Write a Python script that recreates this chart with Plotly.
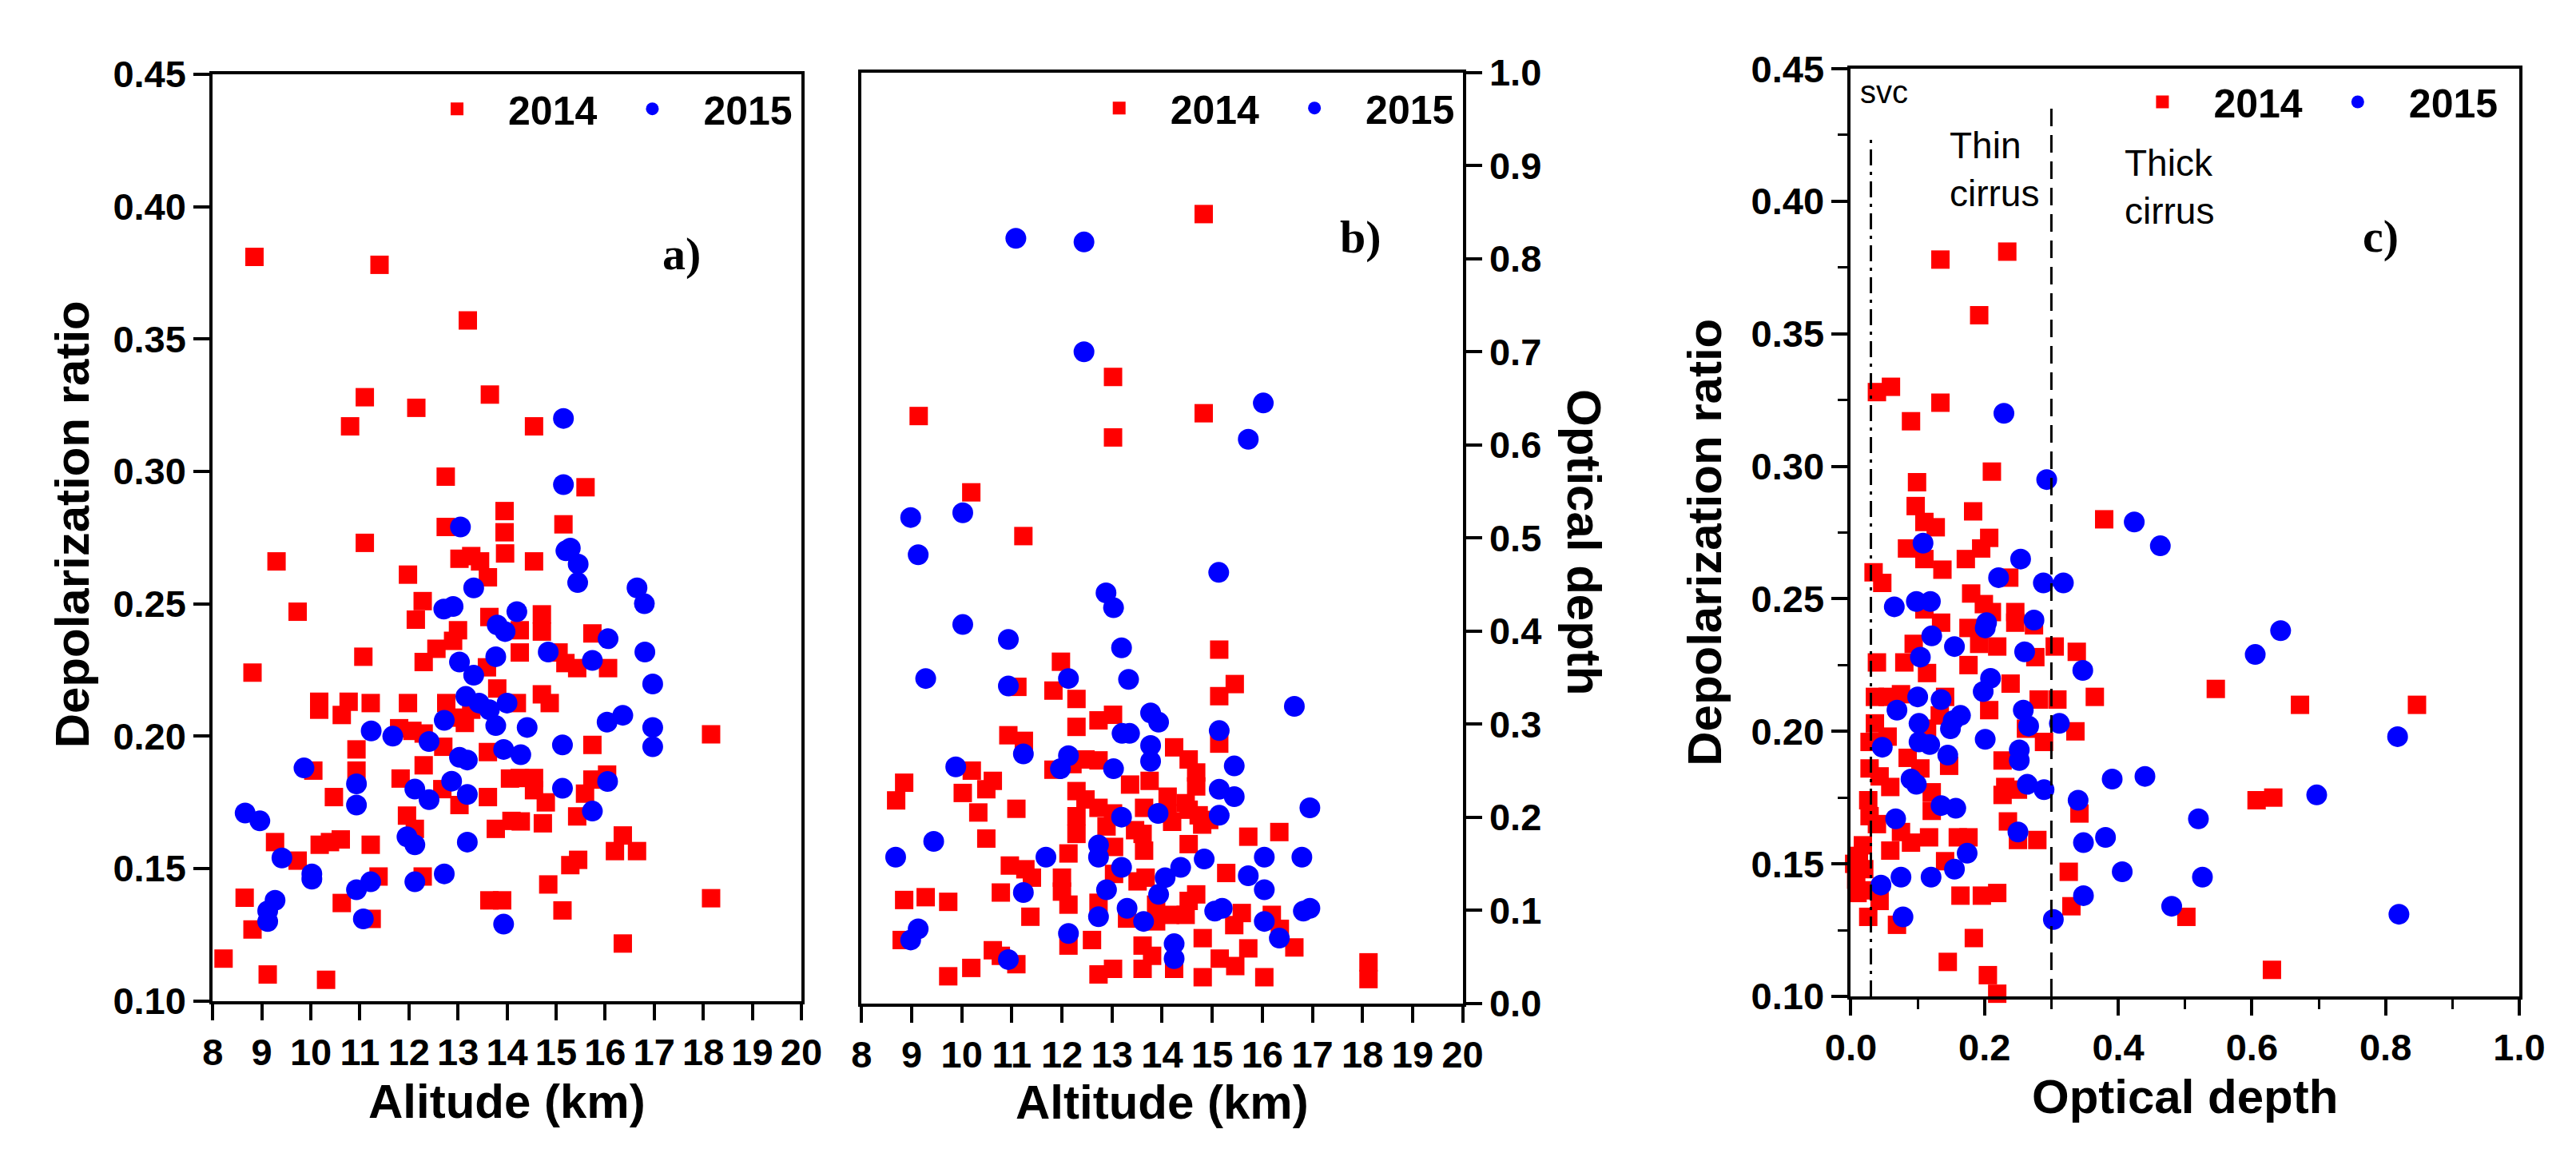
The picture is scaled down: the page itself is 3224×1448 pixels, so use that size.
import plotly.graph_objects as go

# ---------------- data ----------------
# Panel a: altitude (km) vs depolarization ratio
a_2014 = [(8.85,0.381),(11.40,0.378),(13.20,0.357),(11.10,0.328),(12.15,0.324),(13.65,0.329),(10.80,0.317),(14.55,0.317),
          (12.75,0.298),(15.60,0.294),(13.95,0.285),(12.75,0.279),(13.95,0.277),(15.15,0.280),(11.10,0.273),(9.30,0.266),
          (13.96,0.269),(13.03,0.267),(13.27,0.268),(13.45,0.266),(13.61,0.260),(11.98,0.261),(9.73,0.247),(12.28,0.251),
          (12.14,0.244),(13.64,0.245),(13.00,0.240),(12.90,0.236),(12.56,0.233),(12.30,0.228),(11.07,0.230),(13.59,0.226),
          (13.80,0.218),(8.81,0.224),(10.17,0.213),(10.17,0.210),(10.77,0.213),(10.63,0.208),(11.22,0.2125),(11.98,0.2125),
          (12.76,0.2125),(12.95,0.207),(13.14,0.205),(13.27,0.210),(11.80,0.203),(12.07,0.202),(12.30,0.201),(12.70,0.196),
          (10.93,0.195),(13.61,0.194),(10.05,0.187),(10.93,0.187),(12.30,0.189),(11.83,0.184),(12.68,0.180),(13.03,0.174),
          (10.47,0.177),(13.61,0.177),(14.06,0.184),(11.96,0.170),(12.12,0.165),(13.77,0.165),(14.09,0.168),(9.27,0.160),
          (10.18,0.159),(10.39,0.160),(10.61,0.161),(11.22,0.159),(9.73,0.153),(11.38,0.147),(12.28,0.147),(8.65,0.139),
          (10.63,0.137),(11.24,0.131),(13.64,0.138),(13.90,0.138),(8.81,0.127),(8.22,0.116),(9.12,0.110),(10.31,0.108),
          (14.55,0.266),(14.71,0.246),(14.71,0.2395),(14.26,0.240),(14.26,0.2316),(15.05,0.2316),(15.19,0.2276),(15.43,0.2257),
          (15.74,0.2388),(16.06,0.2257),(14.71,0.2158),(14.87,0.2125),(14.20,0.2125),(15.74,0.1967),(18.16,0.2007),(14.26,0.1842),
          (14.55,0.1842),(14.55,0.1796),(14.79,0.175),(15.59,0.1783),(15.74,0.1836),(16.04,0.1855),(15.43,0.1697),(14.28,0.1678),
          (14.73,0.1671),(16.36,0.1625),(16.20,0.1566),(16.65,0.1566),(15.29,0.1513),(15.45,0.1533),(14.84,0.144),(15.13,0.1342),
          (18.16,0.1388),(16.36,0.1217)]
a_2015 = [(15.15,0.320),(15.15,0.295),(13.05,0.279),(15.20,0.270),(15.29,0.271),(15.45,0.265),(15.44,0.258),(13.32,0.256),
          (16.65,0.256),(16.80,0.250),(12.71,0.248),(12.90,0.249),(14.20,0.247),(13.80,0.242),(13.96,0.2395),(14.84,0.2318),
          (15.74,0.2286),(16.06,0.2368),(16.81,0.2318),(16.97,0.2197),(13.03,0.228),(13.77,0.230),(13.32,0.223),(13.16,0.215),
          (13.43,0.2125),(13.64,0.210),(13.77,0.204),(14.00,0.2125),(12.72,0.206),(11.23,0.202),(11.67,0.200),(12.41,0.198),
          (13.03,0.192),(13.19,0.191),(13.93,0.195),(14.28,0.193),(14.41,0.2033),(16.04,0.2053),(16.36,0.2079),(16.97,0.2033),
          (16.97,0.196),(15.13,0.1967),(9.86,0.188),(10.93,0.182),(10.93,0.174),(12.12,0.180),(12.41,0.176),(12.87,0.183),
          (13.19,0.178),(15.13,0.1803),(16.05,0.1829),(15.74,0.1717),(8.66,0.171),(8.96,0.168),(11.96,0.162),(12.12,0.159),
          (13.19,0.160),(9.41,0.154),(10.02,0.148),(10.02,0.146),(11.22,0.145),(10.93,0.142),(12.12,0.145),(12.72,0.148),
          (9.27,0.138),(9.12,0.134),(9.12,0.130),(11.07,0.131),(13.93,0.129)]

# Panel b: altitude (km) vs optical depth
b_2014 = [(14.83,0.848),(13.02,0.673),(9.14,0.631),(14.83,0.634),(13.02,0.608),
          (10.19,0.549),(11.23,0.502),(11.98,0.367),(11.11,0.340),(11.83,0.336),(12.29,0.327),(12.29,0.297),(12.73,0.304),
          (13.02,0.310),(10.93,0.288),(11.24,0.282),(11.83,0.251),(12.21,0.257),(12.47,0.262),(12.73,0.261),(8.85,0.237),
          (8.69,0.218),(10.20,0.250),(10.02,0.226),(10.33,0.205),(10.49,0.230),(10.62,0.239),(11.09,0.209),(10.49,0.177),
          (12.29,0.228),(12.29,0.201),(12.29,0.182),(12.13,0.161),(12.73,0.210),(13.02,0.204),(13.36,0.235),(13.75,0.239),
          (13.64,0.210),(13.61,0.182),(13.64,0.164),(12.89,0.190),(10.96,0.148),(11.27,0.144),(11.40,0.135),(12.00,0.135),
          (12.00,0.120),(12.13,0.106),(13.04,0.139),(13.67,0.135),(8.85,0.111),(9.28,0.114),(9.73,0.109),(10.78,0.119),
          (11.37,0.093),(12.73,0.108),(13.30,0.091),(13.88,0.088),(8.80,0.068),(12.13,0.062),(12.60,0.068),(10.62,0.057),
          (10.78,0.051),(11.09,0.042),(9.73,0.029),(10.19,0.038),(12.73,0.031),(13.02,0.037),(13.61,0.062),(13.61,0.037),
          (13.80,0.051),(12.47,0.219),(13.46,0.186),(13.04,0.168),(13.51,0.131),(13.88,0.106),
          (15.14,0.380),(15.45,0.343),(15.14,0.330),(15.14,0.279),(14.24,0.275),(14.53,0.262),(14.68,0.248),(14.68,0.233),
          (14.11,0.222),(14.47,0.215),(14.11,0.204),(14.53,0.208),(14.73,0.202),(14.94,0.197),(15.72,0.179),(16.34,0.184),
          (14.53,0.171),(15.28,0.140),(14.68,0.117),(14.53,0.110),(14.16,0.095),(14.47,0.095),(15.59,0.097),(15.44,0.084),
          (16.19,0.095),(16.35,0.080),(16.64,0.060),(14.81,0.070),(15.72,0.059),(15.15,0.048),(15.46,0.040),(14.24,0.037),
          (14.81,0.028),(16.04,0.028),(18.12,0.044),(18.12,0.026),(14.20,0.195),(14.80,0.192)]
b_2015 = [(11.08,0.822),(12.44,0.818),(12.44,0.700),(16.02,0.645),(15.72,0.606),(15.13,0.463),
          (8.98,0.522),(10.02,0.527),(9.13,0.482),(12.88,0.441),(13.03,0.425),(10.02,0.407),(10.93,0.391),(13.19,0.382),
          (9.28,0.349),(10.93,0.341),(12.13,0.349),(13.33,0.348),(13.77,0.312),(13.93,0.302),(13.20,0.290),(13.35,0.290),
          (13.77,0.277),(13.77,0.260),(11.23,0.268),(12.13,0.266),(11.97,0.252),(9.88,0.254),(13.03,0.252),(13.19,0.200),
          (13.92,0.204),(12.73,0.170),(12.73,0.157),(9.44,0.174),(8.68,0.157),(11.68,0.157),(13.19,0.146),(11.23,0.119),
          (12.89,0.122),(12.73,0.093),(13.30,0.102),(13.63,0.088),(13.93,0.117),(9.13,0.080),(8.98,0.068),(12.13,0.075),
          (10.93,0.047),
          (16.64,0.319),(15.14,0.293),(15.44,0.255),(15.14,0.230),(15.44,0.222),(15.14,0.202),(16.95,0.210),(14.84,0.155),
          (14.37,0.146),(14.06,0.135),(16.04,0.157),(16.79,0.157),(15.72,0.137),(16.04,0.122),(15.20,0.102),(15.05,0.099),
          (16.95,0.102),(16.82,0.099),(16.04,0.088),(16.34,0.070),(14.24,0.064),(14.24,0.048)]

# Panel c: optical depth vs depolarization ratio
c_2014 = [(0.234,0.381),(0.134,0.378),(0.192,0.357),(0.039,0.328),(0.060,0.330),(0.134,0.324),(0.090,0.317),
          (0.211,0.298),(0.099,0.294),(0.097,0.285),(0.110,0.279),(0.127,0.277),(0.183,0.283),(0.379,0.280),(0.084,0.269),
          (0.110,0.265),(0.137,0.261),(0.207,0.273),(0.195,0.269),(0.172,0.265),(0.034,0.260),(0.047,0.256),(0.237,0.258),
          (0.180,0.252),(0.199,0.248),(0.211,0.245),(0.110,0.246),(0.135,0.241),(0.176,0.239),(0.246,0.245),(0.246,0.241),
          (0.274,0.240),(0.219,0.232),(0.192,0.233),(0.094,0.233),(0.305,0.232),(0.338,0.230),(0.039,0.226),(0.080,0.226),
          (0.176,0.225),(0.276,0.228),(0.114,0.222),(0.239,0.218),(0.365,0.213),(0.281,0.212),(0.309,0.212),(0.036,0.213),
          (0.055,0.213),(0.075,0.214),(0.141,0.213),(0.207,0.208),(0.036,0.203),(0.055,0.198),(0.133,0.206),(0.262,0.201),
          (0.289,0.196),(0.336,0.200),(0.114,0.201),(0.028,0.196),
          (0.147,0.187),(0.227,0.189),(0.231,0.179),(0.227,0.176),(0.028,0.186),(0.043,0.183),(0.059,0.179),(0.104,0.186),
          (0.085,0.190),(0.121,0.177),(0.121,0.170),(0.250,0.178),(0.342,0.169),(0.026,0.174),(0.028,0.168),(0.235,0.166),
          (0.250,0.159),(0.279,0.159),(0.039,0.165),(0.075,0.162),(0.090,0.158),(0.117,0.160),(0.160,0.160),(0.176,0.160),
          (0.059,0.155),(0.141,0.151),(0.012,0.153),(0.020,0.148),(0.008,0.144),(0.028,0.140),(0.043,0.136),(0.005,0.150),
          (0.018,0.157),(0.010,0.139),(0.026,0.130),(0.069,0.127),(0.164,0.138),(0.196,0.138),(0.219,0.139),(0.326,0.147),
          (0.330,0.134),(0.184,0.122),(0.145,0.113),(0.205,0.108),(0.219,0.101),
          (0.546,0.216),(0.672,0.210),(0.847,0.210),(0.607,0.174),(0.632,0.175),(0.502,0.130),(0.630,0.110)]
c_2015 = [(0.229,0.320),(0.463,0.270),
          (0.293,0.295),(0.424,0.279),(0.108,0.271),(0.254,0.265),(0.221,0.258),(0.288,0.256),(0.318,0.256),(0.065,0.247),
          (0.098,0.249),(0.119,0.249),(0.203,0.241),(0.201,0.239),(0.274,0.242),(0.121,0.236),(0.155,0.232),(0.260,0.230),
          (0.104,0.228),(0.347,0.223),(0.209,0.220),(0.198,0.215),(0.100,0.213),(0.069,0.208),(0.135,0.212),(0.164,0.206),
          (0.153,0.204),(0.149,0.201),(0.102,0.203),(0.258,0.208),(0.266,0.202),(0.312,0.203),(0.201,0.197),(0.102,0.196),
          (0.118,0.195),(0.047,0.194),(0.252,0.193),
          (0.145,0.191),(0.252,0.189),(0.090,0.182),(0.098,0.180),(0.264,0.180),(0.289,0.178),(0.135,0.172),(0.157,0.171),
          (0.340,0.174),(0.067,0.167),(0.391,0.182),(0.440,0.183),(0.250,0.162),(0.348,0.158),(0.381,0.160),(0.174,0.154),
          (0.155,0.148),(0.406,0.147),(0.045,0.142),(0.075,0.145),(0.120,0.145),(0.348,0.138),(0.078,0.130),(0.303,0.129),
          (0.605,0.229),(0.643,0.238),(0.818,0.198),(0.697,0.176),(0.520,0.167),(0.526,0.145),(0.480,0.134),(0.820,0.131)]

series_names = ["2014", "2015"]
alt_ticks = list(range(8, 21))
od_thresholds = [0.03, 0.3]          # SVC / thin cirrus and thin / thick cirrus limits
od_threshold_tops = [0.425, 0.435]
region_labels = ["svc", "Thin<br>cirrus", "Thick<br>cirrus"]
panel_labels = ["a)", "b)", "c)"]

# ---------------- styling ----------------
W, H = 3224, 1448
RED, BLUE = "#ff0000", "#0000ff"
SANS = "Liberation Sans, Arial, sans-serif"
SERIF = "Liberation Serif, Times New Roman, serif"
TICKFONT = dict(family=SANS, size=47, color="black", weight="bold")
TITLEFONT = dict(family=SANS, size=60, color="black", weight="bold")


def px_x(p):
    return p / W


def px_y(p):
    return 1 - p / H


fig = go.Figure()

panels = [("x", "y", "legend", a_2014, a_2015),
          ("x2", "y2", "legend2", b_2014, b_2015),
          ("x3", "y3", "legend3", c_2014, c_2015)]
for xa, ya, lg, s14, s15 in panels:
    for name, pts, sym, col, size in [(series_names[0], s14, "square", RED, 23),
                                      (series_names[1], s15, "circle", BLUE, 26)]:
        fig.add_trace(go.Scatter(
            x=[p[0] for p in pts], y=[p[1] for p in pts], mode="markers", name=name,
            marker=dict(symbol=sym, size=size, color=col, line=dict(width=0)),
            xaxis=xa, yaxis=ya, legend=lg, cliponaxis=False, showlegend=True))

axis_common = dict(showline=True, linewidth=4, linecolor="black", mirror=True, ticks="outside",
                   ticklen=20, tickwidth=4, tickcolor="black", showgrid=False, zeroline=False,
                   tickfont=TICKFONT, fixedrange=True)

legend_common = dict(orientation="h", yanchor="middle", xanchor="right", bgcolor="rgba(0,0,0,0)",
                     font=dict(family=SANS, size=50, color="black", weight="bold"),
                     itemwidth=118, itemclick=False, borderwidth=0, tracegroupgap=0)

fig.update_layout(
    width=W, height=H, margin=dict(l=0, r=0, t=0, b=0),
    paper_bgcolor="white", plot_bgcolor="white",
    xaxis=dict(domain=[px_x(230), px_x(982)], range=[8, 20], tickmode="array", tickvals=alt_ticks,
               anchor="y", **axis_common),
    yaxis=dict(domain=[px_y(1264), px_y(60)], range=[0.10, 0.45], dtick=0.05, tick0=0.1,
               tickformat=".2f", anchor="x", **axis_common),
    xaxis2=dict(domain=[px_x(1059), px_x(1827)], range=[8, 20], tickmode="array", tickvals=alt_ticks,
                anchor="y2", **axis_common),
    yaxis2=dict(domain=[px_y(1267), px_y(58)], range=[0, 1.0], dtick=0.1, tick0=0, side="right",
                tickformat=".1f", anchor="x2", **axis_common),
    xaxis3=dict(domain=[px_x(2323), px_x(3177)], range=[0, 1.0], dtick=0.2, tick0=0, tickformat=".1f",
                minor=dict(dtick=0.1, ticks="outside", ticklen=12, tickwidth=3, tickcolor="black"),
                anchor="y3", **axis_common),
    yaxis3=dict(domain=[px_y(1258), px_y(53)], range=[0.10, 0.45], dtick=0.05, tick0=0.1, tickformat=".2f",
                minor=dict(dtick=0.025, ticks="outside", ticklen=12, tickwidth=3, tickcolor="black"),
                anchor="x3", **axis_common),
    legend=dict(x=px_x(976), y=px_y(105), **legend_common),
    legend2=dict(x=px_x(1822), y=px_y(104), **legend_common),
    legend3=dict(x=px_x(3155), y=px_y(96), **legend_common),
    showlegend=True,
)

# threshold lines in panel c
fig.add_shape(type="line", xref="x3", yref="y3", x0=od_thresholds[0], x1=od_thresholds[0],
              y0=0.10, y1=od_threshold_tops[0], line=dict(color="black", width=3, dash="20px,8px,4px,8px"))
fig.add_shape(type="line", xref="x3", yref="y3", x0=od_thresholds[1], x1=od_thresholds[1],
              y0=0.10, y1=od_threshold_tops[1], line=dict(color="black", width=3, dash="22px,11px"))

ann = []
# axis titles
ann.append(dict(text="Depolarization ratio", x=px_x(50), y=px_y(645), textangle=-90, font=TITLEFONT))
ann.append(dict(text="Alitude (km)", x=px_x(606), y=px_y(1395), font=TITLEFONT))
ann.append(dict(text="Altitude (km)", x=px_x(1443), y=px_y(1396), font=TITLEFONT))
ann.append(dict(text="Optical depth", x=px_x(1982), y=px_y(668), textangle=90, font=TITLEFONT))
ann.append(dict(text="Depolarization ratio", x=px_x(2136), y=px_y(668), textangle=-90, font=TITLEFONT))
ann.append(dict(text="Optical depth", x=px_x(2750), y=px_y(1388), font=TITLEFONT))
for a in ann:
    a.update(xref="paper", yref="paper", showarrow=False, xanchor="center", yanchor="middle")

# region labels in panel c
REGFONT = dict(family=SANS, size=46, color="black")
ann.append(dict(text=region_labels[0], x=px_x(2333), y=px_y(83), xref="paper", yref="paper",
                showarrow=False, xanchor="left", yanchor="middle", font=dict(family=SANS, size=40, color="black")))
ann.append(dict(text=region_labels[1], x=px_x(2447), y=px_y(184), xref="paper", yref="paper", align="left",
                showarrow=False, xanchor="left", yanchor="middle", font=REGFONT))
ann.append(dict(text=region_labels[2], x=px_x(2671), y=px_y(207), xref="paper", yref="paper", align="left",
                showarrow=False, xanchor="left", yanchor="middle", font=REGFONT))

# panel labels
PFONT = dict(family=SERIF, size=58, color="black", weight="bold")
for lab, (xp, yp) in zip(panel_labels, [(829, 293), (1697, 271), (3000, 270)]):
    ann.append(dict(text=lab, x=px_x(xp), y=px_y(yp), xref="paper", yref="paper", showarrow=False,
                    xanchor="center", yanchor="middle", font=PFONT))

fig.update_layout(annotations=ann)
fig.write_html("out.html", include_plotlyjs=True, full_html=True,
               config=dict(displayModeBar=False, staticPlot=True))
